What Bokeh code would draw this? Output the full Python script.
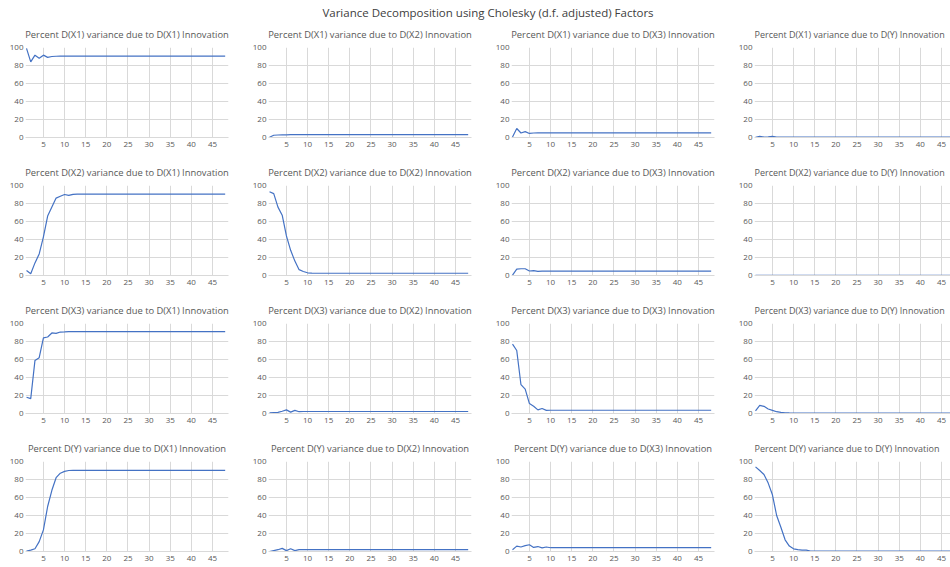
from bokeh.plotting import figure
from bokeh.models import Range1d, FixedTicker, Div, ColumnDataSource
from bokeh.layouts import gridplot, column
from bokeh.embed import file_html
from bokeh.resources import INLINE

# ---------------- data ----------------
periods = list(range(1, 49))
x_ticks = [5, 10, 15, 20, 25, 30, 35, 40, 45]
y_ticks = [0, 20, 40, 60, 80, 100]
variables = ["D(X1)", "D(X2)", "D(X3)", "D(Y)"]
main_title = "Variance Decomposition using Cholesky (d.f. adjusted) Factors"

x1_x1 = [99.0, 84.0, 91.5, 88.0, 91.5, 89.0, 90.0, 90.3, 90.4, 90.4, 90.4, 90.4,
         90.4, 90.4, 90.4, 90.4, 90.4, 90.4, 90.4, 90.4, 90.4, 90.4, 90.4, 90.4,
         90.4, 90.4, 90.4, 90.4, 90.4, 90.4, 90.4, 90.4, 90.4, 90.4, 90.4, 90.4,
         90.4, 90.4, 90.4, 90.4, 90.4, 90.4, 90.4, 90.4, 90.4, 90.4, 90.4, 90.4]
x1_x2 = [0.2, 2.5, 2.8, 3.0, 3.0, 3.1, 3.1, 3.1, 3.1, 3.1, 3.1, 3.1,
         3.1, 3.1, 3.1, 3.1, 3.1, 3.1, 3.1, 3.1, 3.1, 3.1, 3.1, 3.1,
         3.1, 3.1, 3.1, 3.1, 3.1, 3.1, 3.1, 3.1, 3.1, 3.1, 3.1, 3.1,
         3.1, 3.1, 3.1, 3.1, 3.1, 3.1, 3.1, 3.1, 3.1, 3.1, 3.1, 3.1]
x1_x3 = [0.5, 10.0, 5.0, 6.5, 4.5, 5.0, 5.2, 5.2, 5.2, 5.2, 5.2, 5.2,
         5.2, 5.2, 5.2, 5.2, 5.2, 5.2, 5.2, 5.2, 5.2, 5.2, 5.2, 5.2,
         5.2, 5.2, 5.2, 5.2, 5.2, 5.2, 5.2, 5.2, 5.2, 5.2, 5.2, 5.2,
         5.2, 5.2, 5.2, 5.2, 5.2, 5.2, 5.2, 5.2, 5.2, 5.2, 5.2, 5.2]
x1_y = [0.2, 1.3, 0.5, 0.6, 1.3, 0.4, 0.4, 0.4, 0.4, 0.4, 0.4, 0.4,
        0.4, 0.4, 0.4, 0.4, 0.4, 0.4, 0.4, 0.4, 0.4, 0.4, 0.4, 0.4,
        0.4, 0.4, 0.4, 0.4, 0.4, 0.4, 0.4, 0.4, 0.4, 0.4, 0.4, 0.4,
        0.4, 0.4, 0.4, 0.4, 0.4, 0.4, 0.4, 0.4, 0.4, 0.4, 0.4, 0.4]

x2_x1 = [5.5, 2.0, 14.0, 24.0, 43.0, 66.0, 76.0, 86.0, 88.0, 90.0, 89.0, 90.2,
         90.4, 90.4, 90.4, 90.4, 90.4, 90.4, 90.4, 90.4, 90.4, 90.4, 90.4, 90.4,
         90.4, 90.4, 90.4, 90.4, 90.4, 90.4, 90.4, 90.4, 90.4, 90.4, 90.4, 90.4,
         90.4, 90.4, 90.4, 90.4, 90.4, 90.4, 90.4, 90.4, 90.4, 90.4, 90.4, 90.4]
x2_x2 = [93.0, 91.0, 76.0, 67.0, 44.0, 28.0, 16.0, 6.5, 4.5, 3.0, 2.6, 2.5,
         2.5, 2.5, 2.5, 2.5, 2.5, 2.5, 2.5, 2.5, 2.5, 2.5, 2.5, 2.5,
         2.5, 2.5, 2.5, 2.5, 2.5, 2.5, 2.5, 2.5, 2.5, 2.5, 2.5, 2.5,
         2.5, 2.5, 2.5, 2.5, 2.5, 2.5, 2.5, 2.5, 2.5, 2.5, 2.5, 2.5]
x2_x3 = [0.5, 7.0, 7.5, 7.5, 5.0, 5.5, 4.5, 4.8, 4.8, 4.8, 4.8, 4.8,
         4.8, 4.8, 4.8, 4.8, 4.8, 4.8, 4.8, 4.8, 4.8, 4.8, 4.8, 4.8,
         4.8, 4.8, 4.8, 4.8, 4.8, 4.8, 4.8, 4.8, 4.8, 4.8, 4.8, 4.8,
         4.8, 4.8, 4.8, 4.8, 4.8, 4.8, 4.8, 4.8, 4.8, 4.8, 4.8, 4.8]
x2_y = [0.1, 0.2, 0.3, 0.3, 0.3, 0.3, 0.3, 0.3, 0.3, 0.3, 0.3, 0.3,
        0.3, 0.3, 0.3, 0.3, 0.3, 0.3, 0.3, 0.3, 0.3, 0.3, 0.3, 0.3,
        0.3, 0.3, 0.3, 0.3, 0.3, 0.3, 0.3, 0.3, 0.3, 0.3, 0.3, 0.3,
        0.3, 0.3, 0.3, 0.3, 0.3, 0.3, 0.3, 0.3, 0.3, 0.3, 0.3, 0.3]

x3_x1 = [18.0, 16.5, 59.0, 62.0, 84.0, 85.0, 89.5, 89.0, 90.5, 90.6, 91.0, 91.0,
         91.0, 91.0, 91.0, 91.0, 91.0, 91.0, 91.0, 91.0, 91.0, 91.0, 91.0, 91.0,
         91.0, 91.0, 91.0, 91.0, 91.0, 91.0, 91.0, 91.0, 91.0, 91.0, 91.0, 91.0,
         91.0, 91.0, 91.0, 91.0, 91.0, 91.0, 91.0, 91.0, 91.0, 91.0, 91.0, 91.0]
x3_x2 = [0.8, 1.0, 1.2, 2.5, 4.0, 1.5, 3.5, 2.0, 2.2, 2.2, 2.2, 2.2,
         2.2, 2.2, 2.2, 2.2, 2.2, 2.2, 2.2, 2.2, 2.2, 2.2, 2.2, 2.2,
         2.2, 2.2, 2.2, 2.2, 2.2, 2.2, 2.2, 2.2, 2.2, 2.2, 2.2, 2.2,
         2.2, 2.2, 2.2, 2.2, 2.2, 2.2, 2.2, 2.2, 2.2, 2.2, 2.2, 2.2]
x3_x3 = [77.0, 70.0, 32.0, 27.0, 11.0, 8.0, 4.0, 5.5, 3.5, 3.6, 3.6, 3.6,
         3.6, 3.6, 3.6, 3.6, 3.6, 3.6, 3.6, 3.6, 3.6, 3.6, 3.6, 3.6,
         3.6, 3.6, 3.6, 3.6, 3.6, 3.6, 3.6, 3.6, 3.6, 3.6, 3.6, 3.6,
         3.6, 3.6, 3.6, 3.6, 3.6, 3.6, 3.6, 3.6, 3.6, 3.6, 3.6, 3.6]
x3_y = [3.0, 9.0, 8.0, 5.0, 3.5, 2.0, 1.2, 0.8, 0.6, 0.5, 0.5, 0.5,
        0.5, 0.5, 0.5, 0.5, 0.5, 0.5, 0.5, 0.5, 0.5, 0.5, 0.5, 0.5,
        0.5, 0.5, 0.5, 0.5, 0.5, 0.5, 0.5, 0.5, 0.5, 0.5, 0.5, 0.5,
        0.5, 0.5, 0.5, 0.5, 0.5, 0.5, 0.5, 0.5, 0.5, 0.5, 0.5, 0.5]

y_x1 = [0.5, 1.5, 3.0, 11.0, 24.0, 50.0, 68.0, 82.0, 87.0, 89.0, 90.0, 90.2,
        90.2, 90.2, 90.2, 90.2, 90.2, 90.2, 90.2, 90.2, 90.2, 90.2, 90.2, 90.2,
        90.2, 90.2, 90.2, 90.2, 90.2, 90.2, 90.2, 90.2, 90.2, 90.2, 90.2, 90.2,
        90.2, 90.2, 90.2, 90.2, 90.2, 90.2, 90.2, 90.2, 90.2, 90.2, 90.2, 90.2]
y_x2 = [0.0, 1.0, 2.0, 3.5, 1.0, 3.0, 1.0, 2.0, 2.0, 2.0, 2.0, 2.0,
        2.0, 2.0, 2.0, 2.0, 2.0, 2.0, 2.0, 2.0, 2.0, 2.0, 2.0, 2.0,
        2.0, 2.0, 2.0, 2.0, 2.0, 2.0, 2.0, 2.0, 2.0, 2.0, 2.0, 2.0,
        2.0, 2.0, 2.0, 2.0, 2.0, 2.0, 2.0, 2.0, 2.0, 2.0, 2.0, 2.0]
y_x3 = [2.0, 6.0, 5.0, 6.5, 7.5, 4.5, 5.5, 4.0, 5.0, 4.2, 4.2, 4.2,
        4.2, 4.2, 4.2, 4.2, 4.2, 4.2, 4.2, 4.2, 4.2, 4.2, 4.2, 4.2,
        4.2, 4.2, 4.2, 4.2, 4.2, 4.2, 4.2, 4.2, 4.2, 4.2, 4.2, 4.2,
        4.2, 4.2, 4.2, 4.2, 4.2, 4.2, 4.2, 4.2, 4.2, 4.2, 4.2, 4.2]
y_y = [94.0, 90.0, 85.5, 76.0, 63.0, 40.0, 27.0, 13.0, 6.0, 3.0, 2.0, 1.5,
       1.5, 0.5, 0.5, 0.5, 0.5, 0.5, 0.5, 0.5, 0.5, 0.5, 0.5, 0.5,
       0.5, 0.5, 0.5, 0.5, 0.5, 0.5, 0.5, 0.5, 0.5, 0.5, 0.5, 0.5,
       0.5, 0.5, 0.5, 0.5, 0.5, 0.5, 0.5, 0.5, 0.5, 0.5, 0.5, 0.5]

series_grid = [
    [x1_x1, x1_x2, x1_x3, x1_y],
    [x2_x1, x2_x2, x2_x3, x2_y],
    [x3_x1, x3_x2, x3_x3, x3_y],
    [y_x1, y_x2, y_x3, y_y],
]

# ---------------- styling ----------------
FONT = "Open Sans"
LINE_COLOR = "#4472C4"
GRID_COLOR = "#d9d9d9"
TEXT_COLOR = "#595959"

X_START = 0.76
PX_PER_UNIT = 4.227


def make_panel(r, c, values):
    last_col = c == 3
    last_row = r == 3
    w = 221 if last_col else 243
    h = 131 if last_row else 138
    frame_w = 196 if last_col else 203
    p = figure(
        width=w, height=h,
        x_range=Range1d(X_START, X_START + frame_w / PX_PER_UNIT),
        y_range=Range1d(0, 100),
        output_backend="svg", toolbar_location=None,
        title=f"Percent {variables[r]} variance due to {variables[c]} Innovation",
        min_border_left=25, min_border_right=0 if last_col else 15,
        min_border_top=25, min_border_bottom=16 if last_row else 23,
    )
    p.outline_line_color = None
    p.background_fill_color = "white"
    p.border_fill_color = "white"

    p.title.text_font = FONT
    p.title.text_font_style = "normal"
    p.title.text_color = TEXT_COLOR
    p.title.standoff = 10
    p.title.vertical_align = "top"
    if last_col:
        p.title.text_font_size = "9px"
        p.title.align = "left"
        p.title.offset = 0
    else:
        p.title.text_font_size = "9.4px"
        p.title.align = "center"

    p.xaxis.ticker = FixedTicker(ticks=x_ticks)
    p.yaxis.ticker = FixedTicker(ticks=y_ticks)
    for ax in (p.xaxis[0], p.yaxis[0]):
        ax.major_tick_line_color = None
        ax.minor_tick_line_color = None
        ax.major_tick_out = 0
        ax.major_tick_in = 0
        ax.major_label_text_font = FONT
        ax.major_label_text_font_size = "8px"
        ax.major_label_text_color = TEXT_COLOR
    p.xaxis.axis_line_color = GRID_COLOR
    p.yaxis.axis_line_color = None
    p.xaxis.major_label_standoff = 4
    p.yaxis.major_label_standoff = 2

    p.xgrid.ticker = FixedTicker(ticks=x_ticks)
    p.ygrid.ticker = FixedTicker(ticks=y_ticks)
    p.xgrid.grid_line_color = GRID_COLOR
    p.ygrid.grid_line_color = GRID_COLOR

    src = ColumnDataSource(data=dict(period=periods, value=values))
    p.line("period", "value", source=src, line_color=LINE_COLOR, line_width=1.2)
    return p


rows = []
for r in range(4):
    rows.append([make_panel(r, c, series_grid[r][c]) for c in range(4)])

grid = gridplot(rows, toolbar_location=None)

header = Div(
    text=main_title, width=950, height=22, margin=(0, 0, 0, 0),
    styles={"font-family": FONT, "font-size": "11.5px", "color": "#404040",
            "text-align": "center", "line-height": "16px", "padding-top": "5px",
            "padding-left": "26px", "box-sizing": "border-box",
            "white-space": "nowrap"},
)

layout = column(header, grid)

with open("out.html", "w") as f:
    f.write(file_html(layout, INLINE))
